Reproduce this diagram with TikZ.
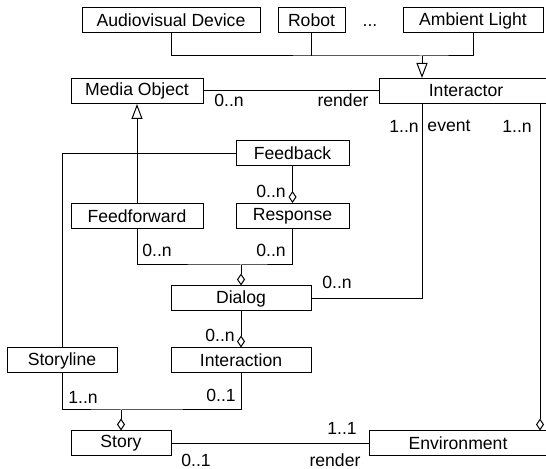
\documentclass[tikz,border=0pt]{standalone}
\usepackage{fontspec}
\setmainfont{Liberation Sans}
\usetikzlibrary{arrows.meta,positioning}

\begin{document}
\begin{tikzpicture}[x=0.5pt,y=-0.5pt,line width=0.5pt]
\tikzstyle{cls}=[rectangle,draw,fill=white,inner sep=0pt,
minimum height=12.5pt,font=\fontsize{8.8}{10}\selectfont]
\tikzstyle{mult}=[inner sep=0pt,font=\fontsize{8.8}{10}\selectfont]
\tikzstyle{gen}=[-{Triangle[open,length=7.5pt,width=5.5pt]}]
\tikzstyle{agg}=[-{Diamond[open,length=6pt,width=4pt]}]
\useasboundingbox (0,0) rectangle (546,469);
\clip (0,0) rectangle (546,469);

\node[cls,minimum width=89pt] at (171,20.5) (av) {Audiovisual Device};
\node[cls,minimum width=33.5pt] at (311.5,20.5) (robot) {Robot};
\node[mult,anchor=base] at (370,27) (dots) {...};
\node[cls,minimum width=70pt] at (473,20.5) (ambient) {Ambient Light};
\node[cls,minimum width=66pt] at (137,91) (media) {Media Object};
\node[cls,minimum width=87pt] at (466,91) (interactor) {Interactor};
\node[cls,minimum width=56.5pt] at (292.5,153.5) (feedback) {Feedback};
\node[cls,minimum width=66pt] at (137,216) (feedforward) {Feedforward};
\node[cls,minimum width=56.5pt] at (292.5,216) (response) {Response};
\node[cls,minimum width=70pt] at (241,298.5) (dialog) {Dialog};
\node[cls,minimum width=55pt] at (62,360.5) (storyline) {Storyline};
\node[cls,minimum width=70pt] at (241,360.5) (interaction) {Interaction};
\node[cls,minimum width=50pt] at (121,443.5) (story) {Story};
\node[cls,minimum width=89pt] at (458,443.5) (environment) {Environment};

\coordinate (j1) at (422,56);
\coordinate (j2) at (241,265);
\coordinate (j3) at (121,410);
\coordinate (j4) at (540,0);

\draw (av.south) |- (j1) -| (ambient.south);
\draw (robot.south) -- (robot.south |- j1);
\draw[gen] (j1) -- (j1 |- interactor.north);
\draw (media) -- (interactor);
\draw (feedback.west) -| (storyline.north);
\draw[gen] (feedforward) -- (media);
\draw[agg] (feedback) -- (response);
\draw (feedforward.south) |- (j2) -| (response.south);
\draw[agg] (j2) -- (dialog.north);
\draw (dialog.east) -| (interactor.south -| j1);
\draw[agg] (dialog) -- (interaction);
\draw (storyline.south) |- (j3) -| (interaction.south);
\draw[agg] (j3) -- (story.north);
\draw (story) -- (environment);
\draw[agg] (interactor.south -| j4) -- (environment.north -| j4);

\node[mult] at (229,100) (m1) {0..n};
\node[mult] at (343,100) (r1) {render};
\node[mult] at (404,126) (m2) {1..n};
\node[mult] at (449,126) (ev) {event};
\node[mult] at (517,126) (m3) {1..n};
\node[mult] at (271,191) (m4) {0..n};
\node[mult] at (157,250) (m5) {0..n};
\node[mult] at (271,250) (m6) {0..n};
\node[mult] at (337,282) (m7) {0..n};
\node[mult] at (220,335) (m8) {0..n};
\node[mult] at (83,397) (m9) {1..n};
\node[mult] at (221,395) (m10) {0..1};
\node[mult] at (342,428) (m11) {1..1};
\node[mult] at (196,460) (m12) {0..1};
\node[mult] at (335,460) (r2) {render};

\end{tikzpicture}
\end{document}
